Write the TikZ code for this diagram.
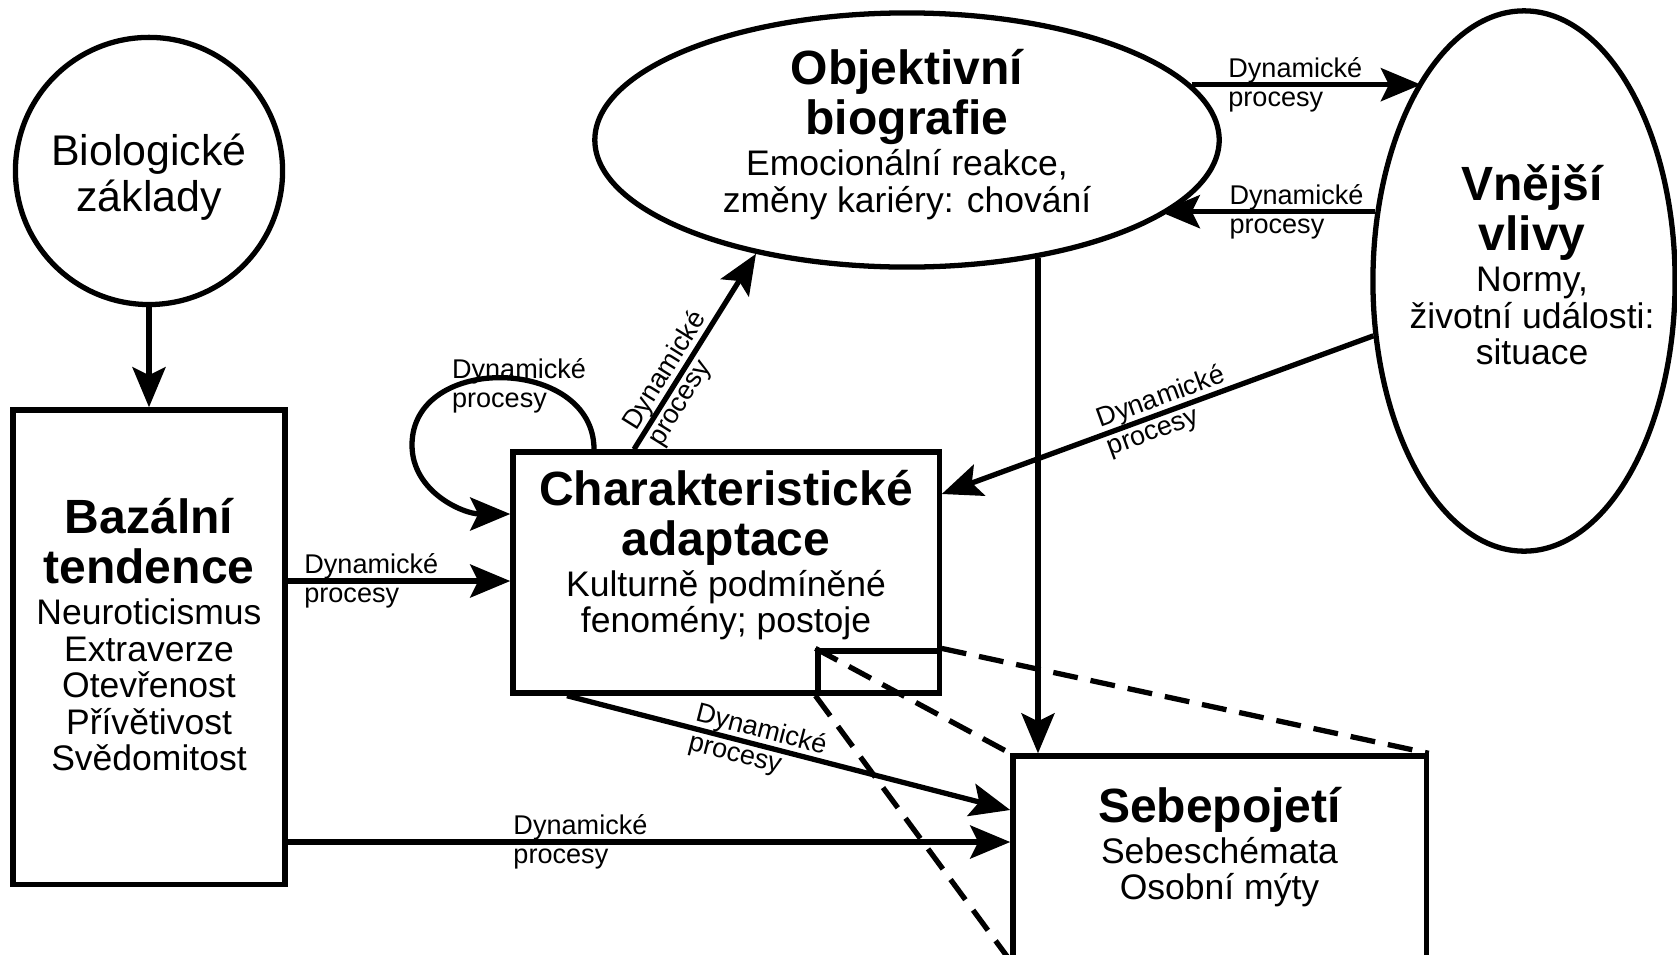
\documentclass[tikz,border=0pt]{standalone}
\usepackage{fontspec}
\setmainfont{Liberation Sans}
\usetikzlibrary{arrows.meta}
\usetikzlibrary{positioning}
\usetikzlibrary{shapes.geometric}

\newcommand\tit{\fontsize{13.66}{14.2}\selectfont\bfseries}
\newcommand\bod{\fontsize{10.1}{10.4}\selectfont\lineskiplimit=-20pt\relax}
\newcommand\lab{\fontsize{7.7}{8.4}\selectfont\lineskiplimit=-20pt\relax}
\newcommand\bigbod{\fontsize{12.2}{13.1}\selectfont\lineskiplimit=-20pt\relax}

\tikzset{
  box/.style={draw, line width=1.5pt, rectangle},
  oval/.style={draw, line width=1.5pt, ellipse},
  txt/.style={align=center, font=\bod, inner sep=0pt},
  dyn/.style={align=left, font=\lab, inner sep=0pt},
  flow/.style={line width=1.5pt, -{Stealth[length=0.4cm, width=0.33cm, inset=0.08cm]}},
  zoomline/.style={line width=1.5pt, dash pattern=on 0.25cm off 0.13cm},
}

\begin{document}
\begin{tikzpicture}[x=0.01cm, y=-0.01cm]
  \useasboundingbox (0,0) rectangle (1677,954);

  % shapes
  \node[box, minimum width=2.72cm, minimum height=4.74cm] (baz) at (149,647) {};
  \node[oval, circle, minimum size=2.67cm, above=1cm of baz] (bio) {};
  \node[box, minimum width=4.26cm, minimum height=2.41cm] (char) at (726,572.5) {};
  \node[box, minimum width=1.21cm, minimum height=0.42cm, anchor=south east] (detail) at (char.south east) {};
  \node[box, minimum width=4.13cm, minimum height=2.02cm] (sebe) at (1219.5,857) {};
  \node[oval, minimum width=6.24cm, minimum height=2.54cm] (obj) at (907,140) {};
  \node[oval, minimum width=3.02cm, minimum height=5.40cm] (vne) at (1524,281) {};
  \coordinate (loopL) at (412,445);

  % texts
  \node[txt, font=\bigbod] (bioT) at ([yshift=-0.065cm]bio.center) {Biologické\\základy};
  \node[txt] (bazT) at ([yshift=0.12cm]baz.center)
    {\tit Bazální\\[3.8pt]\tit tendence\\[1.2pt] Neuroticismus\\ Extraverze\\ Otevřenost\\ Přívětivost\\ Svědomitost};
  \node[txt] (charT) at ([yshift=0.175cm]char.center)
    {\tit Charakteristické\\[3.8pt]\tit adaptace\\[1.2pt] Kulturně podmíněné\\ fenomény; postoje};
  \node[txt] (objT) at ([yshift=0.055cm]obj.center)
    {\tit Objektivní\\[3.8pt]\tit biografie\\[1.2pt] Emocionální reakce,\\ změny kariéry: chování};
  \node[txt] (vneT) at ([xshift=0.08cm, yshift=0.16cm]vne.center)
    {\tit Vnější\\[3.8pt]\tit vlivy\\[1.2pt] Normy,\\ životní události:\\ situace};
  \node[txt] (sebeT) at ([yshift=0.1cm]sebe.center)
    {\tit Sebepojetí\\[1.2pt] Sebeschémata\\ Osobní mýty};

  % connectors
  \draw[flow] (bio) -- (baz);
  \draw[flow] (baz.east |- 0,581) -- node[dyn, at start, anchor=west, xshift=0.14cm] {Dynamické\\procesy} (char.west |- 0,581);
  \draw[flow] (baz.east |- 0,842) -- node[dyn, at start, anchor=west, xshift=2.23cm] {Dynamické\\procesy} (sebe.west |- 0,842);
  \draw[flow] (char.south -| 567,0) -- node[dyn, pos=0.43, sloped] {Dynamické\\procesy} (sebe.west |- 0,810);
  \draw[flow] (char.north -| 634,0) -- node[dyn, pos=0.36, sloped] {Dynamické\\procesy} (obj.217.4);
  \draw[flow] (char.north -| 594,0) to[out=90, in=90, looseness=1.3]
    node[dyn, pos=0.5, xshift=0.16cm, yshift=-0.08cm] {Dynamické\\procesy} (loopL)
    to[out=-90, in=180] (char.west |- 0,514);
  \draw[flow] (obj.11.55) -- node[dyn, at start, anchor=west, xshift=0.34cm] {Dynamické\\procesy} (vne.117.4 |- obj.11.55);
  \draw[flow] (vne.155.4) -- node[dyn, at end, anchor=west, xshift=0.67cm] {Dynamické\\procesy} (obj.343.7 |- vne.155.4);
  \draw[flow] (vne.200.8) -- node[dyn, pos=0.48, sloped] {Dynamické\\procesy} (char.east |- 0,494);
  \draw[flow] (obj.318.4) -- (obj.318.4 |- sebe.north);

  % zoom lines
  \draw[zoomline] (detail.north west) -- (sebe.north west);
  \draw[zoomline] (detail.north east) -- (sebe.north east);
  \draw[zoomline] (detail.south west) -- (sebe.south west);
\end{tikzpicture}
\end{document}
